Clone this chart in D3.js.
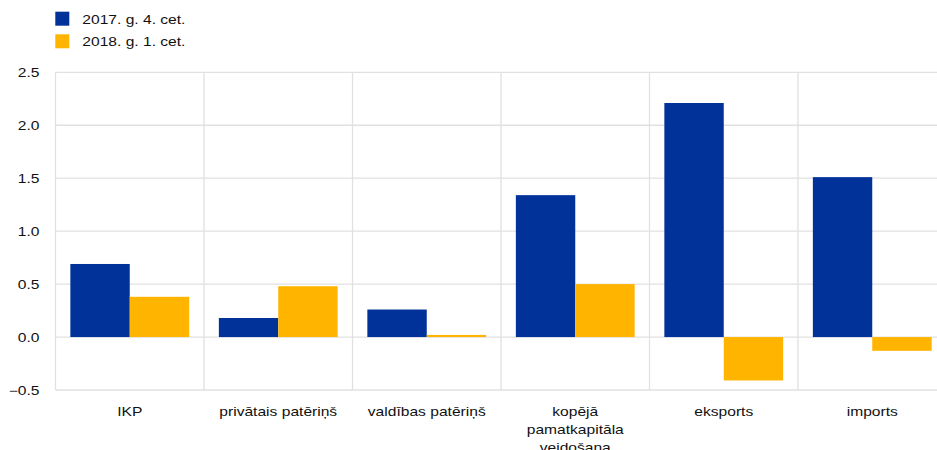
<!DOCTYPE html>
<html>
<head>
<meta charset="utf-8">
<script src="https://cdn.jsdelivr.net/npm/d3@7/dist/d3.min.js"></script>
<style>
  html, body { margin: 0; padding: 0; background: #fff; }
  svg { display: block; }
  text { font-family: "Liberation Sans", Arial, Helvetica, sans-serif; fill: #111; }
</style>
</head>
<body>
<svg id="chart" width="937" height="450"></svg>
<script>
// Contributions by component, percentage points
const categories = ["IKP", "privātais patēriņš", "valdības patēriņš", "kopējā pamatkapitāla veidošana", "eksports", "imports"];
const seriesNames = ["2017. g. 4. cet.", "2018. g. 1. cet."];
const q4_2017 = [0.69, 0.18, 0.26, 1.34, 2.21, 1.51];
const q1_2018 = [0.38, 0.48, 0.02, 0.50, -0.41, -0.13];
const yTicks = [-0.5, 0.0, 0.5, 1.0, 1.5, 2.0, 2.5];

const colors = ["#003299", "#FFB400"];
const gridColor = "#e1e1e1";
const textStretch = 1.3;   // labels are set slightly wide
const fontSize = 12;

const svg = d3.select("#chart");
const plotLeft = 55.5, plotTop = 72.3, plotBottom = 390, catWidth = 148.5;

const x0 = d3.scaleBand()
  .domain(categories)
  .range([plotLeft, plotLeft + catWidth * categories.length])
  .paddingInner(0).paddingOuter(0);

const x1 = d3.scaleBand()
  .domain(seriesNames)
  .range([x0.bandwidth() * 0.1, x0.bandwidth() * 0.9])
  .padding(0);

const y = d3.scaleLinear().domain([-0.5, 2.5]).range([plotBottom, plotTop]);

// horizontal gridlines
svg.append("g")
  .selectAll("line")
  .data(yTicks)
  .join("line")
  .attr("x1", plotLeft).attr("x2", 937)
  .attr("y1", d => y(d)).attr("y2", d => y(d))
  .attr("stroke", gridColor).attr("stroke-width", 1.3);

// vertical separators between categories
svg.append("g")
  .selectAll("line")
  .data(categories)
  .join("line")
  .attr("x1", d => x0(d)).attr("x2", d => x0(d))
  .attr("y1", plotTop).attr("y2", plotBottom)
  .attr("stroke", gridColor).attr("stroke-width", 1.3);

// bars
const rows = categories.map((c, i) => ({ cat: c, vals: [q4_2017[i], q1_2018[i]] }));
svg.append("g")
  .selectAll("g")
  .data(rows)
  .join("g")
  .attr("transform", d => `translate(${x0(d.cat)},0)`)
  .selectAll("rect")
  .data(d => d.vals.map((v, j) => ({ name: seriesNames[j], v, j })))
  .join("rect")
  .attr("x", d => x1(d.name))
  .attr("width", x1.bandwidth())
  .attr("y", d => y(Math.max(0, d.v)))
  .attr("height", d => Math.abs(y(d.v) - y(0)))
  .attr("fill", d => colors[d.j]);

// y axis labels
const yAxis = d3.axisLeft(y).tickValues(yTicks).tickFormat(d3.format(".1f")).tickSize(0);
const yg = svg.append("g").attr("transform", `translate(${plotLeft},0)`).call(yAxis);
yg.select(".domain").remove();
yg.selectAll("text")
  .attr("x", -12.3)
  .attr("dy", "0.35em")
  .attr("transform", `scale(${textStretch},1)`)
  .style("font-size", fontSize + "px")
  .style("font-family", "'Liberation Sans', Arial, sans-serif")
  .attr("fill", "#111");

// category labels, wrapped by word
const labelLimit = 130;
const lineH = 18;
categories.forEach(c => {
  const cx = x0(c) + x0.bandwidth() / 2;
  const g = svg.append("g").attr("transform", `translate(${cx},416) scale(${textStretch},1)`);
  const t = g.append("text").attr("text-anchor", "middle").style("font-size", fontSize + "px");
  const words = c.split(" ");
  let lines = [];
  let cur = [];
  const probe = t.append("tspan");
  words.forEach(w => {
    const trial = cur.concat([w]).join(" ");
    probe.text(trial);
    if (cur.length && probe.node().getComputedTextLength() * textStretch > labelLimit) {
      lines.push(cur.join(" "));
      cur = [w];
    } else {
      cur.push(w);
    }
  });
  lines.push(cur.join(" "));
  probe.remove();
  lines.forEach((l, i) => {
    t.append("tspan").attr("x", 0).attr("y", i * lineH).text(l);
  });
});

// legend
const legend = svg.append("g");
seriesNames.forEach((s, i) => {
  legend.append("rect")
    .attr("x", 55.3).attr("y", 11.7 + i * 22.6)
    .attr("width", 14).attr("height", 14)
    .attr("fill", colors[i]);
  legend.append("g")
    .attr("transform", `translate(82.3,${23.7 + i * 22.6}) scale(${textStretch},1)`)
    .append("text")
    .style("font-size", fontSize + "px")
    .text(s);
});
</script>
</body>
</html>
